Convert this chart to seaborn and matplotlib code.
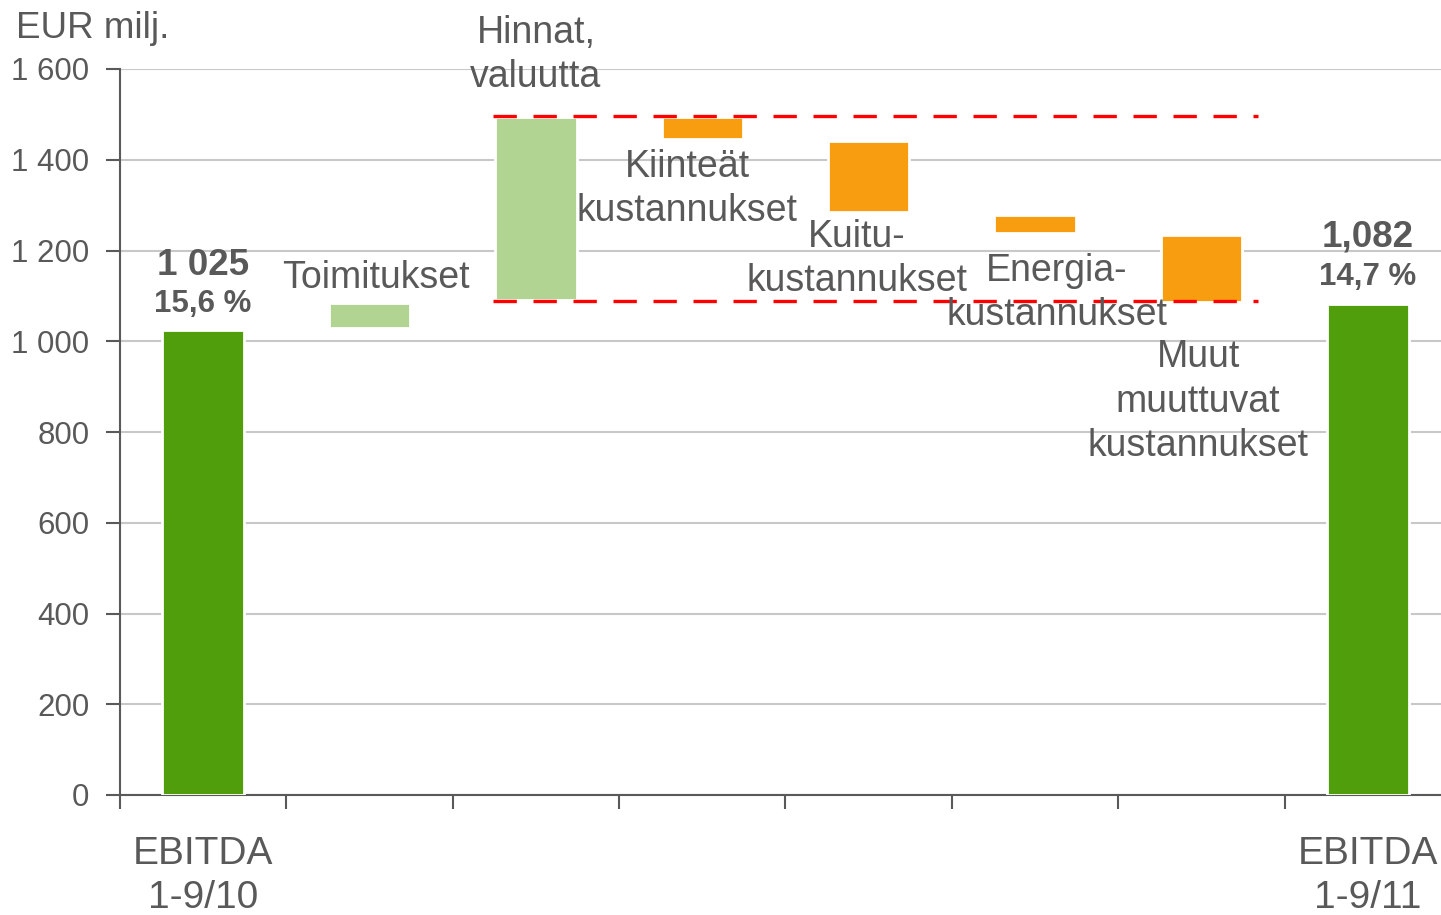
import matplotlib
matplotlib.use("Agg")
import matplotlib.pyplot as plt
import seaborn as sns
import pandas as pd

sns.set_theme(style="white")
plt.rcParams['font.family'] = ['Liberation Sans', 'DejaVu Sans']

# data (EUR milj.)
steps = ["EBITDA 1-9/10", "Toimitukset", "Hinnat, valuutta", "Kiinteät kustannukset",
         "Kuitu-kustannukset", "Energia-kustannukset", "Muut muuttuvat kustannukset", "EBITDA 1-9/11"]
bar_low = [0, 1029, 1091, 1446, 1284, 1239, 1087, 0]
bar_high = [1025, 1085, 1494, 1494, 1441, 1278, 1234, 1082]
bar_kind = ["total", "up", "up", "down", "down", "down", "down", "total"]
band_low, band_high = 1088, 1496

first_label = "EBITDA\n1-9/10"
last_label = "EBITDA\n1-9/11"
first_value, first_margin = "1 025", "15,6 %"
last_value, last_margin = "1,082", "14,7 %"
step_labels = ["Toimitukset", "Hinnat,\nvaluutta", "Kiinteät\nkustannukset",
               "Kuitu-\nkustannukset", "Energia-\nkustannukset", "Muut\nmuuttuvat\nkustannukset"]

palette = {"total": "#519e0c", "up": "#b1d492", "down": "#f99d10"}
txt = "#595959"

df = pd.DataFrame({"step": steps, "low": bar_low, "high": bar_high, "kind": bar_kind})
df["height"] = df["high"] - df["low"]

fig = plt.figure(figsize=(14.41, 9.15), dpi=100)
ax = fig.add_axes([120 / 1441, 1 - 795 / 915, 1 - 120 / 1441, (795 - 69) / 915])

for i, r in df.iterrows():
    ax.bar(i, r["height"], bottom=r["low"], width=0.49, color=palette[r["kind"]],
           edgecolor="white", linewidth=2, zorder=3)

ax.set_xlim(-0.5, 7.44)
ax.set_ylim(0, 1600)
ax.set_yticks(range(0, 1601, 200))
ax.set_yticklabels([f"{v:,}".replace(",", " ") for v in range(0, 1601, 200)],
                   fontsize=22.5, color=txt)
ax.yaxis.grid(True, color="#c8c8c8", linewidth=1.5, zorder=0)
ax.set_xticks([i - 0.5 for i in range(8)])
ax.set_xticklabels([])
ax.tick_params(axis="y", length=10, width=1.5, color="#595959", direction="out", pad=12, left=True)
ax.tick_params(axis="x", length=10, width=1.5, color="#595959", direction="out", bottom=True)
for s in ["top", "right"]:
    ax.spines[s].set_visible(False)
for s in ["left", "bottom"]:
    ax.spines[s].set_color("#595959")
    ax.spines[s].set_linewidth(1.5)

# dashed band
for yv in (band_low, band_high):
    ax.plot([1.74, 6.34], [yv, yv], color="#ff0000", linewidth=2.4,
            dashes=(7, 5), zorder=4)

# bottom category labels
ax.text(0, -179, first_label, ha="center", va="center", fontsize=28, color=txt,
        linespacing=1.28)
ax.text(7, -179, last_label, ha="center", va="center", fontsize=28, color=txt,
        linespacing=1.28)

# totals
ax.text(0, 1166, first_value, ha="center", va="center", fontsize=26.5, color=txt, fontweight="bold")
ax.text(0, 1082, first_margin, ha="center", va="center", fontsize=22.5, color=txt, fontweight="bold")
ax.text(7, 1229, last_value, ha="center", va="center", fontsize=26.5, color=txt, fontweight="bold")
ax.text(7, 1141, last_margin, ha="center", va="center", fontsize=22.5, color=txt, fontweight="bold")

# step labels
label_pos = [(1.04, 1139), (2.0, 1631), (2.91, 1335), (3.93, 1181), (5.13, 1106), (5.98, 867)]
for lab, (xx, yy) in zip(step_labels, label_pos):
    ax.text(xx, yy, lab, ha="center", va="center", fontsize=27, color=txt,
            linespacing=1.3, zorder=5)

fig.text(16 / 1441, 1 - 29 / 915, "EUR milj.", ha="left", va="center", fontsize=26.5, color=txt)

fig.savefig("out.png", dpi=100)
